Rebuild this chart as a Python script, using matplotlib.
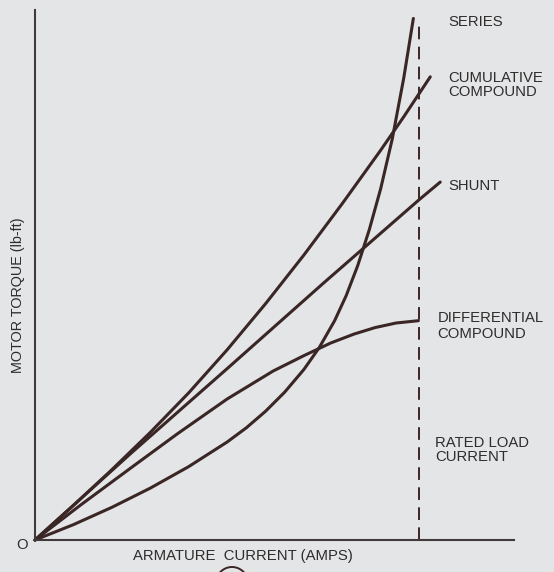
import matplotlib
matplotlib.use("Agg")
import matplotlib.pyplot as plt
from matplotlib.patches import Ellipse

# Torque vs armature current for the four DC motor types (rated load current = 100)
series_x = [0, 10, 20, 30, 40, 50, 55, 60, 65, 70, 74, 78, 81, 84, 87, 90, 93, 96, 98.5]
series_y = [0, 4.0, 8.5, 13.5, 19.1, 25.5, 29.2, 33.5, 38.5, 44.4, 50.1, 57.1,
            63.6, 71.4, 80.7, 91.5, 104.4, 120.3, 135.8]

cumulative_x = [0, 10, 20, 30, 40, 50, 60, 70, 80, 90, 96, 102.9]
cumulative_y = [0, 9.0, 18.3, 28.0, 38.3, 49.5, 61.5, 74.2, 87.6, 101.5, 110.2, 120.6]

shunt_x = [0, 25, 50, 75, 100, 105.5]
shunt_y = [0, 22.6, 44.6, 66.8, 88.6, 93.2]

differential_x = [0, 12, 25, 37, 50, 62, 70, 77, 83, 88.5, 94, 99.8]
differential_y = [0, 9.2, 18.8, 27.6, 36.7, 44.0, 48.0, 51.3, 53.6, 55.3, 56.5, 57.1]

rated_current = 100
rated_top = 135.2

labels = ["SERIES", "CUMULATIVE\nCOMPOUND", "SHUNT", "DIFFERENTIAL\nCOMPOUND", "RATED LOAD\nCURRENT"]

BG = "#e3e5e7"
INK = "#3b2626"
TXT = "#2f2c2c"
FONT = "Liberation Sans"

fig = plt.figure(figsize=(5.54, 5.72), dpi=100, facecolor=BG)
ax = fig.add_axes([35 / 554, 32 / 572, 479 / 554, 530 / 572])
ax.set_facecolor(BG)

for xs, ys in [(series_x, series_y), (cumulative_x, cumulative_y),
               (shunt_x, shunt_y), (differential_x, differential_y)]:
    ax.plot(xs, ys, color=INK, lw=2.2, solid_capstyle="round",
            solid_joinstyle="round", clip_on=False)

ax.plot([rated_current, rated_current], [0, rated_top], color=INK, lw=1.4,
        linestyle=(0, (6.5, 3.8)), clip_on=False)

ax.set_xlim(0, 124.7)
ax.set_ylim(0, 138.0)
for side in ("top", "right"):
    ax.spines[side].set_visible(False)
for side in ("left", "bottom"):
    ax.spines[side].set_color("#403a3a")
    ax.spines[side].set_linewidth(1.5)
ax.set_xticks([])
ax.set_yticks([])

fs = 10.7
ax.text(107.6, 134.8, labels[0], ha="left", va="center", fontsize=fs,
        family=FONT, color=TXT)
ax.text(107.5, 118.4, labels[1], ha="left", va="center", fontsize=fs,
        family=FONT, color=TXT, linespacing=1.0)
ax.text(107.6, 92.3, labels[2], ha="left", va="center", fontsize=fs,
        family=FONT, color=TXT)
ax.text(104.8, 55.7, labels[3], ha="left", va="center", fontsize=fs,
        family=FONT, color=TXT, linespacing=1.15)
ax.text(104.2, 23.4, labels[4], ha="left", va="center", fontsize=fs,
        family=FONT, color=TXT, linespacing=1.05)

fig.text(22.5 / 554, 1 - 545 / 572, "O", ha="center", va="center",
         fontsize=fs, family=FONT, color=TXT)
fig.text(242.5 / 554, 1 - 556 / 572, "ARMATURE  CURRENT (AMPS)", ha="center",
         va="center", fontsize=fs, family=FONT, color=TXT)
fig.text(18 / 554, 1 - 295 / 572, "MOTOR TORQUE (lb-ft)", ha="center",
         va="center", rotation=90, fontsize=10.4, family=FONT, color=TXT)

# circled figure number, cut off at the bottom edge
fig.add_artist(Ellipse((232 / 554, 1 - 583 / 572), 32 / 554, 32 / 572,
                       fill=False, edgecolor=INK, lw=1.4))

fig.savefig("out.png", dpi=100, facecolor=BG)
